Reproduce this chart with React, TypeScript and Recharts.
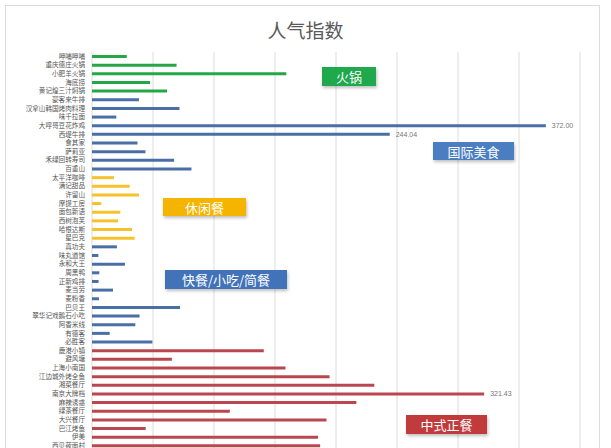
import React from 'react';
import { BarChart, Bar, XAxis, YAxis, CartesianGrid, Cell, LabelList } from 'recharts';

const categories = [
  '呷哺呷哺', '重庆德庄火锅', '小肥羊火锅', '海底捞', '黄记煌三汁焖锅',
  '豪客来牛排', '汉拿山韩国烤肉料理', '味千拉面', '大呼哥豆花炸鸡', '西堤牛排',
  '食其家', '萨莉亚', '禾绿回转寿司', '百重山',
  '太平洋咖啡', '满记甜品', '许留山', '摩提工房', '面包新语', '西树泡芙', '哈根达斯', '星巴克',
  '真功夫', '味丸道馆', '永和大王', '周黑鸭', '正新鸡排', '麦当劳', '麦粉香', '巴贝王',
  '翠华记戏鹅石小吃', '阿香米线', '有德客', '必胜客',
  '鹿港小镇', '避风塘', '上海小南国', '江边城外烤全鱼', '湘菜餐厅', '南京大牌档',
  '麻辣诱惑', '绿茶餐厅', '大兴餐厅', '巴江烤鱼', '伊美', '西贝莜面村',
];

const popularity = [
  28.5, 69.3, 159.3, 47.6, 61.5,
  38.5, 71.7, 19.9, 372.0, 244.04,
  37.3, 43.8, 67.3, 81.5,
  18, 30.9, 38.5, 7.6, 23.2, 21.3, 32.8, 35,
  20.4, 5.2, 27, 6, 5.4, 17.2, 5.7, 72.2,
  39, 35.5, 14.5, 49.5,
  140.8, 65.5, 158.6, 194.7, 231.4, 321.43,
  216.7, 113, 192.2, 44, 185.3, 187,
];

const groups = [
  'hotpot', 'hotpot', 'hotpot', 'hotpot', 'hotpot',
  'intl', 'intl', 'intl', 'intl', 'intl', 'intl', 'intl', 'intl', 'intl',
  'leisure', 'leisure', 'leisure', 'leisure', 'leisure', 'leisure', 'leisure', 'leisure',
  'fast', 'fast', 'fast', 'fast', 'fast', 'fast', 'fast', 'fast', 'fast', 'fast', 'fast', 'fast',
  'chinese', 'chinese', 'chinese', 'chinese', 'chinese', 'chinese',
  'chinese', 'chinese', 'chinese', 'chinese', 'chinese', 'chinese',
];

const labelledCategories = ['大呼哥豆花炸鸡', '西堤牛排', '南京大牌档'];

const xTicks = [50, 100, 150, 200, 250, 300, 350, 400];

const groupColors: Record<string, string> = {
  hotpot: '#25A748',
  intl: '#4A6EA6',
  leisure: '#F6C22C',
  fast: '#4A6EA6',
  chinese: '#B9474D',
};

const data = categories.map((name, i) => ({
  name,
  value: popularity[i],
  group: groups[i],
  tag: labelledCategories.includes(name) ? popularity[i].toFixed(2) : '',
}));

const renderTag = (props: any) => {
  const { x, y, width, height, value } = props;
  if (!value) return null;
  return (
    <text
      x={Number(x) + Number(width) + 6}
      y={Number(y) + Number(height) / 2}
      dy={2.5}
      fontSize={7}
      fill="#777"
      fontFamily="Liberation Sans, Arial, sans-serif"
    >
      {value}
    </text>
  );
};

const boxBase: React.CSSProperties = {
  position: 'absolute',
  color: '#fff',
  fontFamily: '"Noto Sans CJK SC", sans-serif',
  display: 'flex',
  alignItems: 'center',
  justifyContent: 'center',
  boxShadow: '1px 2px 3px rgba(0,0,0,0.25)',
  lineHeight: 1,
};

export default function App() {
  return (
    <div
      style={{
        position: 'fixed',
        left: 0,
        top: 0,
        width: 611,
        height: 448,
        overflow: 'hidden',
        background: '#fff',
      }}
    >
      <div
        style={{
          position: 'absolute',
          left: 5,
          top: 5,
          width: 595,
          height: 600,
          border: '1px solid #dcdcdc',
          boxSizing: 'border-box',
        }}
      />
      <div
        style={{
          position: 'absolute',
          left: 0,
          top: 18,
          width: 611,
          textAlign: 'center',
          fontSize: 19,
          color: '#595959',
          fontFamily: '"Noto Sans CJK SC", sans-serif',
          lineHeight: '24px',
        }}
      >
        人气指数
      </div>
      <div style={{ position: 'absolute', left: 0, top: 0 }}>
        <BarChart
          width={611}
          height={480}
          data={data}
          layout="vertical"
          margin={{ top: 52, right: 31, bottom: 30, left: 0 }}
        >
          <CartesianGrid horizontal={false} stroke="#dcdcdc" />
          <XAxis type="number" domain={[0, 400]} ticks={xTicks} hide />
          <YAxis
            type="category"
            dataKey="name"
            width={92}
            interval={0}
            tickLine={false}
            axisLine={false}
            tickSize={5}
            tick={{ fontSize: 6.6, fill: '#555', fontFamily: '"Noto Sans CJK SC", sans-serif' }}
          />
          <Bar dataKey="value" barSize={3} isAnimationActive={false}>
            {data.map((d, i) => (
              <Cell key={i} fill={groupColors[d.group]} />
            ))}
            <LabelList dataKey="tag" content={renderTag} />
          </Bar>
        </BarChart>
      </div>
      <div style={{ ...boxBase, left: 322, top: 67, width: 54, height: 19, background: '#1FA94C', fontSize: 13 }}>
        火锅
      </div>
      <div style={{ ...boxBase, left: 433, top: 142, width: 81, height: 18, background: '#4A7EC0', fontSize: 13 }}>
        国际美食
      </div>
      <div style={{ ...boxBase, left: 163, top: 198, width: 83, height: 18, background: '#F5B400', fontSize: 13 }}>
        休闲餐
      </div>
      <div style={{ ...boxBase, left: 165, top: 270, width: 122, height: 19, background: '#4272B8', fontSize: 13 }}>
        快餐/小吃/简餐
      </div>
      <div style={{ ...boxBase, left: 406, top: 415, width: 81, height: 19, background: '#C13B3C', fontSize: 13 }}>
        中式正餐
      </div>
    </div>
  );
}
